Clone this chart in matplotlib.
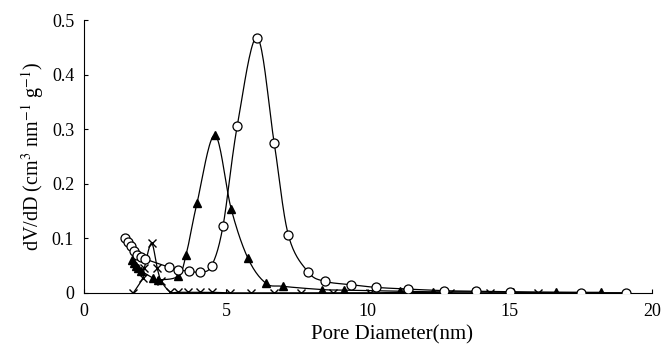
import numpy as np
import matplotlib
matplotlib.use("Agg")
import matplotlib.pyplot as plt

plt.rcParams['font.family'] = ['Liberation Serif', 'DejaVu Serif']
plt.rcParams['mathtext.fontset'] = 'stix'

circ_x = [1.45, 1.55, 1.65, 1.75, 1.87, 2.0, 2.15, 3.0, 3.3, 3.7, 4.1, 4.5, 4.9, 5.4, 6.1,
          6.7, 7.2, 7.9, 8.5, 9.4, 10.3, 11.4, 12.7, 13.8, 15.0, 17.5, 19.1]
circ_y = [0.101, 0.094, 0.086, 0.077, 0.069, 0.065, 0.062, 0.047, 0.042, 0.040, 0.038, 0.050,
          0.123, 0.306, 0.468, 0.275, 0.106, 0.038, 0.021, 0.015, 0.010, 0.007, 0.004, 0.003,
          0.002, 0.0005, 0.0003]

tri_x = [1.68, 1.75, 1.82, 1.92, 2.02, 2.44, 2.62, 3.32, 3.6, 3.98, 4.61, 5.19, 5.78, 6.40,
         7.01, 8.40, 9.17, 11.13, 12.28, 13.7, 15.1, 16.64, 18.2]
tri_y = [0.060, 0.055, 0.050, 0.045, 0.040, 0.027, 0.024, 0.031, 0.070, 0.164, 0.289, 0.153,
         0.063, 0.018, 0.012, 0.006, 0.005, 0.003, 0.002, 0.002, 0.001, 0.001, 0.001]

crs_x = [1.74, 2.07, 2.13, 2.38, 2.58, 2.73, 3.03, 3.3, 3.67, 4.08, 4.5, 5.14, 5.9, 6.69,
         7.66, 8.78, 10.09, 11.34, 12.9, 14.3, 16.0]
crs_y = [0.0, 0.027, 0.046, 0.091, 0.045, 0.021, 0.002, 0.001, 0.001, 0.001, 0.001, 0.0,
         0.0, 0.0, 0.0, 0.0, 0.0, 0.001, 0.0, 0.0, 0.0]


def smooth(x, y, n=20):
    x = np.asarray(x, float)
    y = np.asarray(y, float)
    px = np.concatenate([[x[0]], x, [x[-1]]])
    py = np.concatenate([[y[0]], y, [y[-1]]])
    ox, oy = [], []
    t = np.linspace(0, 1, n, endpoint=False)
    for i in range(1, len(px) - 2):
        p0x, p1x, p2x, p3x = px[i-1:i+3]
        p0y, p1y, p2y, p3y = py[i-1:i+3]
        c1x = p1x + (p2x - p0x) / 6
        c1y = p1y + (p2y - p0y) / 6
        c2x = p2x - (p3x - p1x) / 6
        c2y = p2y - (p3y - p1y) / 6
        bx = (1-t)**3*p1x + 3*(1-t)**2*t*c1x + 3*(1-t)*t**2*c2x + t**3*p2x
        by = (1-t)**3*p1y + 3*(1-t)**2*t*c1y + 3*(1-t)*t**2*c2y + t**3*p2y
        ox.extend(bx)
        oy.extend(by)
    ox.append(x[-1])
    oy.append(y[-1])
    return np.array(ox), np.array(oy)


fig = plt.figure(figsize=(6.61, 3.52), dpi=100)
ax = fig.add_axes([0.127, 0.168, 0.859, 0.775])

for xs, ys, mk, kw in [
    (crs_x, crs_y, 'x', dict(color='black', markersize=6, markeredgewidth=1.0)),
    (tri_x, tri_y, '^', dict(color='black', markerfacecolor='black', markersize=6)),
    (circ_x, circ_y, 'o', dict(color='black', markerfacecolor='white', markersize=6.5, markeredgewidth=0.9)),
]:
    sx, sy = smooth(xs, ys)
    ax.plot(sx, sy, color='black', linewidth=0.9, zorder=2)
    ax.plot(xs, ys, linestyle='none', marker=mk, zorder=3, **kw)

ax.set_xlim(0, 20)
ax.set_ylim(0, 0.5)
ax.set_xticks([0, 5, 10, 15, 20])
ax.set_xticklabels(['0', '5', '10', '15', '20'])
ax.set_yticks([0, 0.1, 0.2, 0.3, 0.4, 0.5])
ax.set_yticklabels(['0', '0.1', '0.2', '0.3', '0.4', '0.5'])
ax.spines['top'].set_visible(False)
ax.spines['right'].set_visible(False)
ax.tick_params(direction='in', length=3, labelsize=13, pad=7)
ax.set_xlabel('Pore Diameter(nm)', fontsize=15)
ax.xaxis.set_label_coords(0.542, -0.12)
ax.set_ylabel(r'dV/dD (cm$^{3}$ nm$^{-1}$ g$^{-1}$)', fontsize=14.5)

fig.savefig('out.png', dpi=100)
